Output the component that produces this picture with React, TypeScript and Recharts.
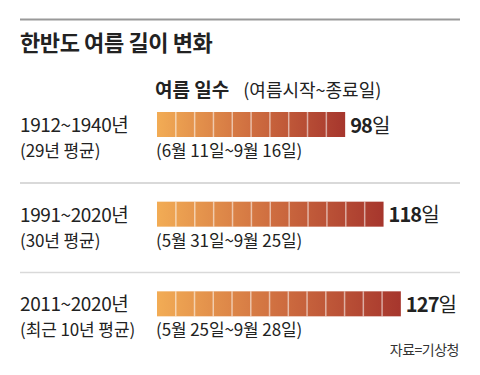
import React from "react";
import { BarChart, Bar, XAxis, YAxis, LabelList } from "recharts";

const periods = ["1912~1940년", "1991~2020년", "2011~2020년"];
const averages = ["(29년 평균)", "(30년 평균)", "(최근 10년 평균)"];
const ranges = ["(6월 11일~9월 16일)", "(5월 31일~9월 25일)", "(5월 25일~9월 28일)"];
const days = [98, 118, 127];

const data = periods.map((p, i) => ({ period: p, days: days[i] }));

const FONT = "'Noto Sans CJK KR', 'Noto Sans', sans-serif";
const INK = "#222";

// row label on the left + date range under the bar
function RowTick(props: any) {
  const { y, index } = props;
  return (
    <g fontFamily={FONT} fill={INK}>
      <text x={20} y={y + 7} fontSize={19} letterSpacing={-0.4}>
        {periods[index]}
      </text>
      <text x={20} y={y + 32} fontSize={17} letterSpacing={-0.1}>
        {averages[index]}
      </text>
      <text x={156} y={y + 32} fontSize={17} letterSpacing={-0.1}>
        {ranges[index]}
      </text>
    </g>
  );
}

// bar split into ~10-day blocks, one gradient over the whole bar
function CellBar(props: any) {
  const { x, y, width, height, index, payload } = props;
  const n = Math.max(1, Math.round(payload.days / 10));
  const w = width / n;
  const id = `grad-${index}`;
  return (
    <g>
      <defs>
        <linearGradient id={id} x1="0" y1="0" x2="1" y2="0">
          <stop offset="0%" stopColor="#F2AC55" />
          <stop offset="50%" stopColor="#CF6E40" />
          <stop offset="100%" stopColor="#A6362D" />
        </linearGradient>
      </defs>
      <rect x={x} y={y} width={width} height={height} fill={`url(#${id})`} />
      {Array.from({ length: n - 1 }, (_, i) => (
        <line
          key={i}
          x1={x + w * (i + 1)}
          x2={x + w * (i + 1)}
          y1={y}
          y2={y + height}
          stroke="#fff"
          strokeOpacity={0.55}
          strokeWidth={1.5}
        />
      ))}
    </g>
  );
}

function DayLabel(props: any) {
  const { x, y, width, height, value } = props;
  return (
    <text
      x={x + width + 5}
      y={y + height / 2 + 8}
      fontFamily={FONT}
      fontSize={20}
      fill={INK}
      letterSpacing={-0.9}
    >
      <tspan fontWeight={700}>{value}</tspan>
      <tspan>일</tspan>
    </text>
  );
}

export default function App() {
  return (
    <div style={{ position: "relative", width: 480, height: 375, background: "#fff" }}>
      <style>{`body{margin:0}`}</style>
      <BarChart
        width={480}
        height={375}
        layout="vertical"
        data={data}
        margin={{ top: 80, right: 35, bottom: 26, left: 20 }}
      >
        <XAxis type="number" domain={[0, 150]} hide />
        <YAxis
          type="category"
          dataKey="period"
          width={137}
          axisLine={false}
          tickLine={false}
          tick={<RowTick />}
        />
        <Bar dataKey="days" barSize={25} shape={<CellBar />} isAnimationActive={false}>
          <LabelList dataKey="days" content={<DayLabel />} />
        </Bar>
      </BarChart>
      <svg
        width={480}
        height={375}
        style={{ position: "absolute", left: 0, top: 0, pointerEvents: "none" }}
        fontFamily={FONT}
      >
        <line x1={20} x2={460} y1={19.5} y2={19.5} stroke="#999" strokeWidth={2} />
        <text x={20} y={51} fontSize={22} fontWeight={700} fill={INK} letterSpacing={-0.4}>
          한반도 여름 길이 변화
        </text>
        <text x={155} y={97} fill={INK}>
          <tspan fontSize={19} fontWeight={700}>여름 일수</tspan>
          <tspan dx={14} fontSize={18}>(여름시작~종료일)</tspan>
        </text>
        <line x1={20} x2={460} y1={183} y2={183} stroke="#ccc" strokeWidth={1.5} />
        <line x1={20} x2={460} y1={272.5} y2={272.5} stroke="#d9d9d9" strokeWidth={1.5} />
        <text x={459} y={355} fontSize={14} fill="#333" textAnchor="end" letterSpacing={-0.5}>
          자료=기상청
        </text>
      </svg>
    </div>
  );
}
